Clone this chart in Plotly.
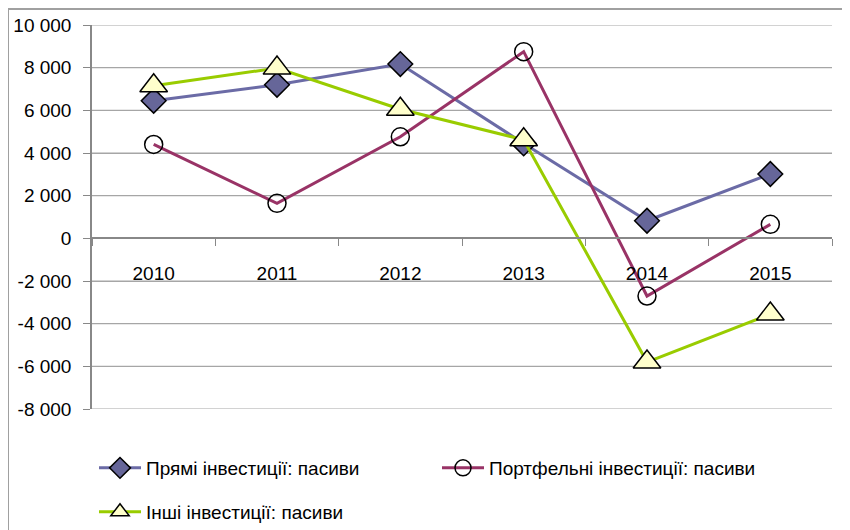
import plotly.graph_objects as go

years = ["2010", "2011", "2012", "2013", "2014", "2015"]
direct = [6450, 7200, 8170, 4450, 825, 3015]
portfolio = [4400, 1640, 4760, 8750, -2705, 655]
other = [7150, 7980, 6050, 4620, -5800, -3550]

names = ["Прямі інвестиції: пасиви", "Портфельні інвестиції: пасиви", "Інші інвестиції: пасиви"]
ytickvals = [10000, 8000, 6000, 4000, 2000, 0, -2000, -4000, -6000, -8000]
yticktext = ["10 000", "8 000", "6 000", "4 000", "2 000", "0", "-2 000", "-4 000", "-6 000", "-8 000"]

FONT = "Liberation Sans, Arial, sans-serif"
FS = 19

# figure is drawn inside the page's 8px body margin
W, H = 842, 522
L, R, T, B = 84, 18, 17, 121
PH = H - T - B  # plot height
PW = W - L - R

fig = go.Figure()
fig.add_trace(go.Scatter(
    x=years, y=direct, name=names[0], mode="lines+markers", legend="legend",
    line=dict(color="#6B6BA6", width=3),
    marker=dict(symbol="diamond", size=19, color="#666699", line=dict(color="black", width=1.5)),
))
fig.add_trace(go.Scatter(
    x=years, y=portfolio, name=names[1], mode="lines+markers", legend="legend",
    line=dict(color="#993366", width=3),
    marker=dict(symbol="circle-open", size=18, color="black", line=dict(color="black", width=1.5)),
))
fig.add_trace(go.Scatter(
    x=years, y=other, name=names[2], mode="lines+markers", legend="legend2",
    line=dict(color="#99CC00", width=3),
    marker=dict(symbol="triangle-up", size=24, color="#FFFFCC", line=dict(color="black", width=1.5)),
))

leg_common = dict(
    orientation="h", xanchor="left", yanchor="middle",
    entrywidthmode="pixels", entrywidth=286, itemwidth=42,
    font=dict(family=FONT, size=FS, color="black"),
    itemsizing="trace", bgcolor="rgba(0,0,0,0)",
)

grid_shapes = [
    dict(type="line", xref="paper", yref="y", x0=0, x1=1, y0=v, y1=v, layer="below",
         line=dict(color="#A6A6A6", width=1.2))
    for v in ytickvals if v != 0
]

fig.update_layout(
    width=W, height=H,
    margin=dict(l=L, r=R, t=T, b=B, autoexpand=False),
    paper_bgcolor="white", plot_bgcolor="white",
    font=dict(family=FONT, size=FS, color="black"),
    showlegend=True,
    legend=dict(leg_common, x=(86 - L) / PW, y=(H - B - 460) / PH),
    legend2=dict(leg_common, x=(86 - L) / PW, y=(H - B - 504) / PH),
    xaxis=dict(
        type="category", range=[-0.5, 5.5], automargin=False,
        anchor="free", position=8000 / 18000,
        showline=True, linecolor="#888888", linewidth=1.5,
        ticks="outside", tickson="boundaries", ticklen=7, tickcolor="#888888",
        showgrid=False, ticklabelstandoff=18,
        tickfont=dict(family=FONT, size=FS),
    ),
    yaxis=dict(
        range=[-8000, 10000], tickvals=ytickvals, ticktext=yticktext, automargin=False,
        showline=True, linecolor="#888888", linewidth=1.5,
        ticks="outside", ticklen=7, tickcolor="#888888",
        showgrid=True, gridcolor="#A6A6A6", gridwidth=1.2,
        zeroline=False, ticklabelstandoff=8,
        tickfont=dict(family=FONT, size=FS),
    ),
    shapes=grid_shapes + [
        dict(type="line", xref="paper", yref="paper", x0=(0 - L) / PW, x1=1.1,
             y0=(H - B - 1) / PH, y1=(H - B - 1) / PH, line=dict(color="#A0A0A0", width=2)),
        dict(type="line", xref="paper", yref="paper", x0=(0 - L) / PW, x1=(0 - L) / PW,
             y0=(H - B - 1) / PH, y1=-0.4, line=dict(color="#A0A0A0", width=2)),
    ],
)

fig.write_html("out.html")
